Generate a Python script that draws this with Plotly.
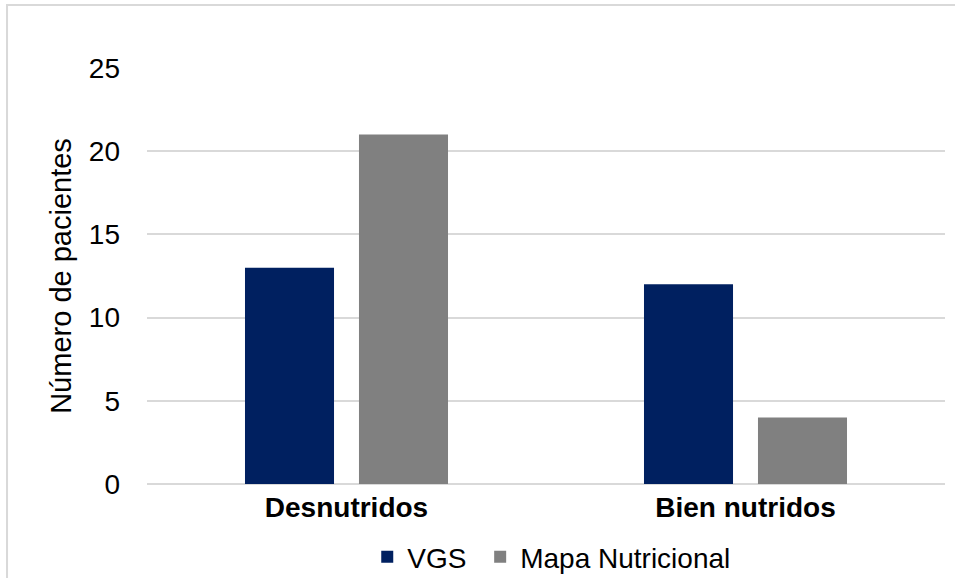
import plotly.graph_objects as go

# Patient counts by nutritional status, compared across two assessment methods
categories = ["Desnutridos", "Bien nutridos"]
vgs_values = [13, 12]
mapa_values = [21, 4]
series_names = ["VGS", "Mapa Nutricional"]
y_ticks = [0, 5, 10, 15, 20, 25]
y_title = "Número de pacientes"

FONT = "Liberation Sans, Arial, sans-serif"
GRID = "#d9d9d9"

fig = go.Figure()
fig.add_trace(go.Bar(x=categories, y=vgs_values, name=series_names[0],
                     marker=dict(color="#002060", line=dict(width=0)),
                     legend="legend"))
fig.add_trace(go.Bar(x=categories, y=mapa_values, name=series_names[1],
                     marker=dict(color="#808080", line=dict(width=0)),
                     legend="legend2"))

# outer chart frame
fig.add_shape(type="rect", xref="paper", yref="paper",
              x0=-0.1754, x1=1.2, y0=-0.4, y1=1.1514,
              line=dict(color=GRID, width=2), fillcolor="rgba(0,0,0,0)",
              layer="below")

legend_style = dict(orientation="h", xanchor="left",
                    y=-0.1755, yanchor="middle",
                    font=dict(family=FONT, size=28, color="#000000"),
                    itemwidth=30, bgcolor="rgba(0,0,0,0)")

fig.update_layout(
    width=955, height=578,
    margin=dict(l=147, r=10, t=68, b=94, autoexpand=False),
    paper_bgcolor="white", plot_bgcolor="white",
    font=dict(family=FONT, size=28, color="#000000"),
    barmode="group", bargap=0.4286, bargroupgap=0.219,
    showlegend=True,
    legend=dict(x=0.276, **legend_style),
    legend2=dict(x=0.4175, **legend_style),
    xaxis=dict(showgrid=False, showline=False, zeroline=False,
               tickfont=dict(family=FONT, size=28, color="#000000",
                             weight="bold"),
               ticks="", ticklabelstandoff=4),
    yaxis=dict(range=[0, 25], tickvals=y_ticks, showgrid=True,
               gridcolor=GRID, gridwidth=1.5,
               zeroline=True, zerolinecolor=GRID, zerolinewidth=2,
               showline=False, ticks="", ticklabelstandoff=26,
               tickfont=dict(family=FONT, size=28, color="#000000"),
               title=dict(text=y_title, standoff=8,
                          font=dict(family=FONT, size=29, color="#000000"))),
)

fig.write_html("out.html")
